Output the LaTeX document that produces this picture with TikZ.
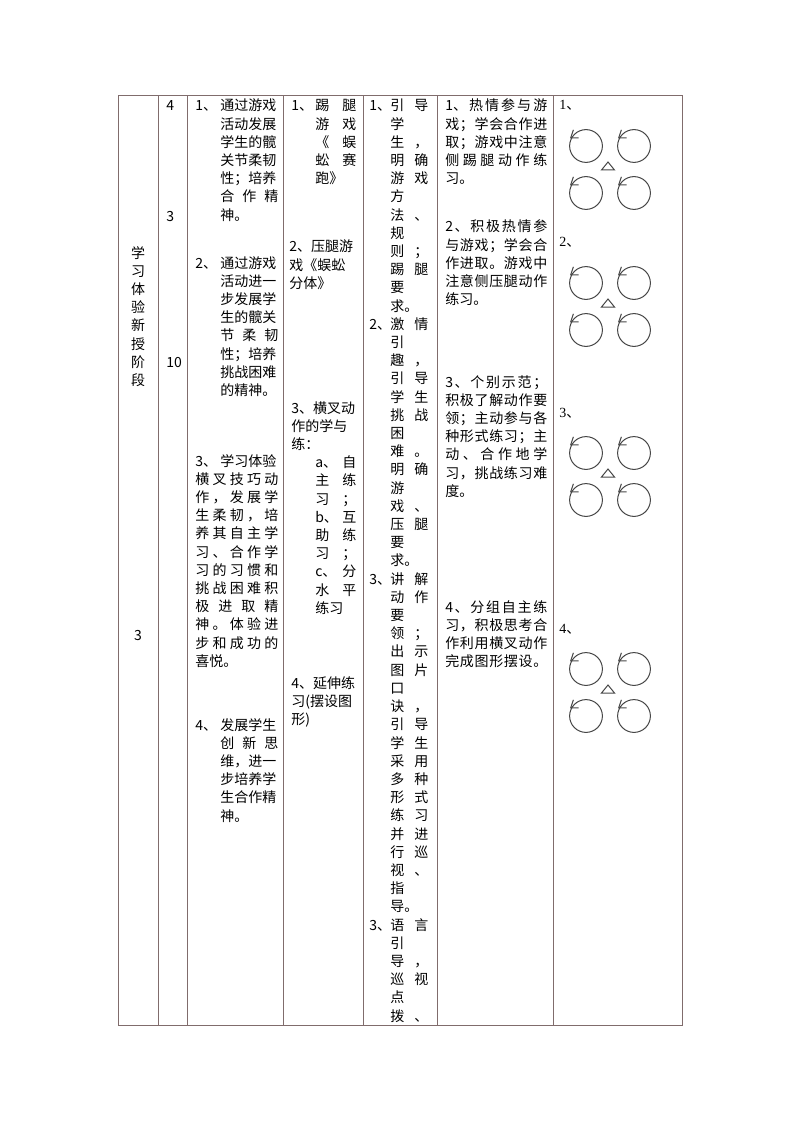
\documentclass[tikz,border=0pt]{standalone}
\usepackage{fontspec}
\setmainfont{Liberation Serif}
\newfontfamily\cjk{Noto Sans CJK SC}

\definecolor{rulecol}{RGB}{128,108,108}
\definecolor{ringcol}{RGB}{70,70,70}

% hanging indents and line widths of the columns
\newlength\hangA \setlength\hangA{18.75pt}
\newlength\restA \setlength\restA{43.5pt}
\newlength\fullA \setlength\fullA{62.25pt}
\newlength\hangB \setlength\hangB{18pt}
\newlength\restB \setlength\restB{30.75pt}
\newlength\hangC \setlength\hangC{15.75pt}
\newlength\pairC \setlength\pairC{28.5pt}
\newlength\fullD \setlength\fullD{76.5pt}

% spread the characters of one line over a given width
\newcommand\jline[2]{\makebox[#1][s]{\jfirst#2\relax}}
\def\jfirst#1{#1\jrest}
\def\jrest#1{\ifx\relax#1\else\hfil#1\expandafter\jrest\fi}
\newcommand\gpair[1]{\hspace*{\hangC}\jline{\pairC}{#1}}
\newcommand\gone[1]{\hspace*{\hangC}#1}

\begin{document}
\begin{tikzpicture}[x=0.75pt, y=-0.75pt,
  txt/.style={font=\cjk\fontsize{10.5pt}{13.65pt}\selectfont, inner sep=0pt,
    align=left, text width=80pt, anchor=base west},
  lab/.style={font=\fontsize{10.5pt}{13.65pt}\selectfont, inner sep=0pt, anchor=base west},
  grid/.style={rulecol, line width=0.75pt},
  ring/.style={ringcol, line width=0.75pt}]

\useasboundingbox (0,0) rectangle (794,1123);

%------------------ TABLE RULES ------------------%
\draw[grid] (118,96) rectangle (682,1025);
\foreach \x in {158,187,283,363,437,553}
  \draw[grid] (\x,96) -- (\x,1025);

%------------------ STAGE AND TIME ------------------%
\node[txt, align=center, text width=12pt, anchor=base] (stage) at (138,258)
  {学\\习\\体\\验\\新\\授\\阶\\段};
\node[txt, align=center, text width=12pt, anchor=base] (stageno) at (138,640) {3};

\node[txt] (time1) at (166,111) {4};
\node[txt] (time2) at (166,222) {3};
\node[txt] (time3) at (166,367) {10};

%------------------ AIMS ------------------%
\node[txt] (aim1) at (195,111) {\makebox[\hangA][l]{1、}通过游戏\\
  \hspace*{\hangA}活动发展\\
  \hspace*{\hangA}学生的髋\\
  \hspace*{\hangA}关节柔韧\\
  \hspace*{\hangA}性；培养\\
  \hspace*{\hangA}\jline{\restA}{合作精}\\
  \hspace*{\hangA}神。};
\node[txt] (aim2) at (195,268) {\makebox[\hangA][l]{2、}通过游戏\\
  \hspace*{\hangA}活动进一\\
  \hspace*{\hangA}步发展学\\
  \hspace*{\hangA}生的髋关\\
  \hspace*{\hangA}\jline{\restA}{节柔韧}\\
  \hspace*{\hangA}性；培养\\
  \hspace*{\hangA}挑战困难\\
  \hspace*{\hangA}的精神。};
\node[txt] (aim3) at (195,466) {\makebox[\hangA][l]{3、}学习体验\\
  \jline{\fullA}{横叉技巧动}\\
  \jline{\fullA}{作，发展学}\\
  \jline{\fullA}{生柔韧，培}\\
  \jline{\fullA}{养其自主学}\\
  \jline{\fullA}{习、合作学}\\
  \jline{\fullA}{习的习惯和}\\
  \jline{\fullA}{挑战困难积}\\
  \jline{\fullA}{极进取精}\\
  \jline{\fullA}{神。体验进}\\
  \jline{\fullA}{步和成功的}\\
  喜悦。};
\node[txt] (aim4) at (195,730) {\makebox[\hangA][l]{4、}发展学生\\
  \hspace*{\hangA}\jline{\restA}{创新思}\\
  \hspace*{\hangA}维，进一\\
  \hspace*{\hangA}步培养学\\
  \hspace*{\hangA}生合作精\\
  \hspace*{\hangA}神。};

%------------------ CONTENT ------------------%
\node[txt] (game1) at (291,111) {\makebox[\hangB][l]{1、}\jline{\restB}{踢腿}\\
  \hspace*{\hangB}\jline{\restB}{游戏}\\
  \hspace*{\hangB}\jline{\restB}{《蜈}\\
  \hspace*{\hangB}\jline{\restB}{蚣赛}\\
  \hspace*{\hangB}跑》};
\node[txt] (game2) at (289,252) {2、压腿游\\戏《蜈蚣\\分体》};
\node[txt] (game3) at (291,413) {3、横叉动\\作的学与\\练：\\
  \hspace*{\hangB}\jline{\restB}{{a、}自}\\
  \hspace*{\hangB}\jline{\restB}{主练}\\
  \hspace*{\hangB}\jline{\restB}{习；}\\
  \hspace*{\hangB}\jline{\restB}{{b、}互}\\
  \hspace*{\hangB}\jline{\restB}{助练}\\
  \hspace*{\hangB}\jline{\restB}{习；}\\
  \hspace*{\hangB}\jline{\restB}{{c、}分}\\
  \hspace*{\hangB}\jline{\restB}{水平}\\
  \hspace*{\hangB}练习};
\node[txt] (game4) at (291,688) {4、延伸练\\习(摆设图\\形)};

%------------------ TEACHER ------------------%
\node[txt] (teach) at (369,111) {\makebox[\hangC][l]{1、}\jline{\pairC}{引导}\\
  \gone{学}\\ \gpair{生，}\\ \gpair{明确}\\ \gpair{游戏}\\ \gone{方}\\
  \gpair{法、}\\ \gone{规}\\ \gpair{则；}\\ \gpair{踢腿}\\ \gone{要}\\ \gone{求。}\\
  \makebox[\hangC][l]{2、}\jline{\pairC}{激情}\\
  \gone{引}\\ \gpair{趣，}\\ \gpair{引导}\\ \gpair{学生}\\ \gpair{挑战}\\ \gone{困}\\
  \gpair{难。}\\ \gpair{明确}\\ \gone{游}\\ \gpair{戏、}\\ \gpair{压腿}\\ \gone{要}\\ \gone{求。}\\
  \makebox[\hangC][l]{3、}\jline{\pairC}{讲解}\\
  \gpair{动作}\\ \gone{要}\\ \gpair{领；}\\ \gpair{出示}\\ \gpair{图片}\\ \gone{口}\\
  \gpair{诀，}\\ \gpair{引导}\\ \gpair{学生}\\ \gpair{采用}\\ \gpair{多种}\\ \gpair{形式}\\
  \gpair{练习}\\ \gpair{并进}\\ \gpair{行巡}\\ \gpair{视、}\\ \gone{指}\\ \gone{导。}\\
  \makebox[\hangC][l]{3、}\jline{\pairC}{语言}\\
  \gone{引}\\ \gpair{导，}\\ \gpair{巡视}\\ \gone{点}\\ \gpair{拨、}};

%------------------ STUDENTS ------------------%
\node[txt] (learn1) at (445,111) {\jline{\fullD}{{1、}热情参与游}\\
  \jline{\fullD}{戏；学会合作进}\\
  \jline{\fullD}{取；游戏中注意}\\
  \jline{\fullD}{侧踢腿动作练}\\
  习。};
\node[txt] (learn2) at (445,232) {\jline{\fullD}{2、积极热情参}\\
  \jline{\fullD}{与游戏；学会合}\\
  \jline{\fullD}{作进取。游戏中}\\
  \jline{\fullD}{注意侧压腿动作}\\
  练习。};
\node[txt] (learn3) at (445,387) {\jline{\fullD}{3、个别示范；}\\
  \jline{\fullD}{积极了解动作要}\\
  \jline{\fullD}{领；主动参与各}\\
  \jline{\fullD}{种形式练习；主}\\
  \jline{\fullD}{动、合作地学}\\
  \jline{\fullD}{习，挑战练习难}\\
  度。};
\node[txt] (learn4) at (445,612) {\jline{\fullD}{4、分组自主练}\\
  \jline{\fullD}{习，积极思考合}\\
  \jline{\fullD}{作利用横叉动作}\\
  \jline{\fullD}{完成图形摆设。}};

%------------------ FORMATIONS ------------------%
\foreach \ly/\k in {105/1,242/2,412/3,628/4} {
  \node[lab] (form\k) at (559,\ly+5) {\k{\cjk 、}};
  \foreach \cx in {586,634}
    \foreach \cy in {41,88} {
      \draw[ring] (\cx,\ly+\cy) circle[radius=12.3pt];
      % open arrowhead on the left of each ring
      \draw[ring] (\cx,\ly+\cy) ++(152:13pt) ++(6pt,0) -- ++(-6pt,0) -- ++(2pt,6pt);
    }
  \draw[ring] (608,\ly+57) -- (614.5,\ly+65) -- (601.5,\ly+65) -- cycle;
}

\end{tikzpicture}
\end{document}
